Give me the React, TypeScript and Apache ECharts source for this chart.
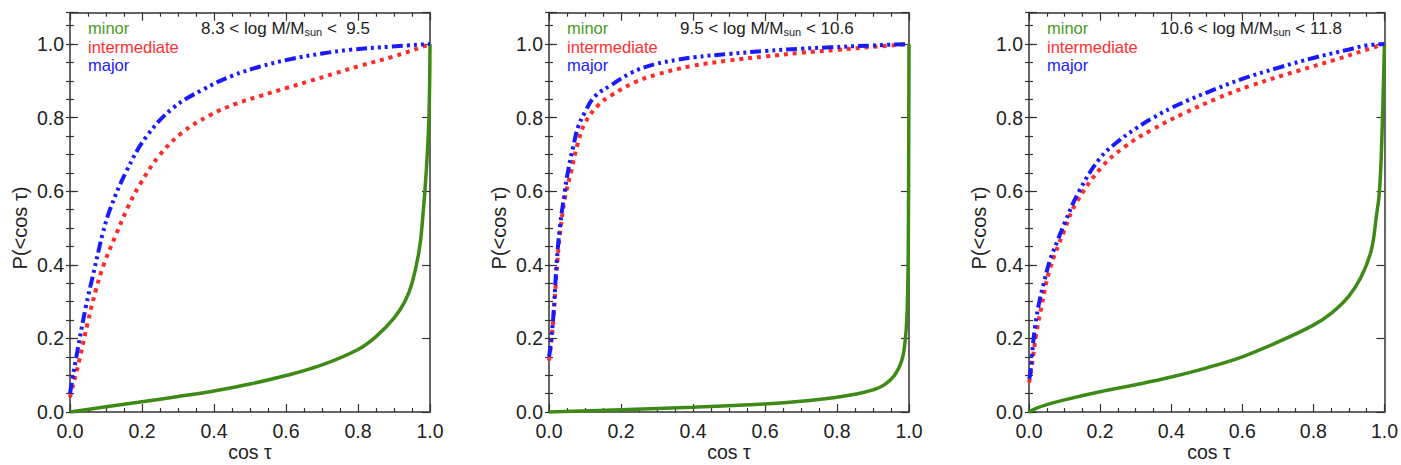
import React, { useEffect, useRef } from 'react';
import * as echarts from 'echarts';

// ---------- data ----------
const SERIES_NAMES = ['minor', 'intermediate', 'major'];
const PANEL_LO = ['8.3', '9.5', '10.6'];
const PANEL_HI = [' 9.5', '10.6', '11.8'];
const X_TICKS = [0, 0.2, 0.4, 0.6, 0.8, 1.0];

// panel 1 : 8.3 < log M < 9.5
const P1_MINOR_X = [0, 0.1, 0.2, 0.3, 0.4, 0.5, 0.6, 0.7, 0.8, 0.85, 0.9, 0.93, 0.95, 0.97, 0.98, 0.99, 0.997, 1.0];
const P1_MINOR_Y = [0, 0.014, 0.028, 0.042, 0.057, 0.076, 0.099, 0.128, 0.17, 0.205, 0.255, 0.3, 0.35, 0.44, 0.53, 0.66, 0.8, 1.0];
const P1_INTER_X = [0, 0.003, 0.026, 0.049, 0.072, 0.095, 0.127, 0.16, 0.194, 0.249, 0.313, 0.388, 0.462, 0.526, 0.6, 0.665, 0.735, 0.803, 0.895, 0.978, 1.0];
const P1_INTER_Y = [0.04, 0.052, 0.141, 0.242, 0.332, 0.404, 0.48, 0.555, 0.618, 0.698, 0.76, 0.806, 0.838, 0.858, 0.88, 0.899, 0.92, 0.94, 0.965, 0.992, 1.0];
const P1_MAJOR_X = [0, 0.005, 0.021, 0.044, 0.063, 0.081, 0.09, 0.111, 0.157, 0.212, 0.286, 0.369, 0.452, 0.526, 0.618, 0.7, 0.776, 0.895, 1.0];
const P1_MAJOR_Y = [0.05, 0.08, 0.168, 0.286, 0.368, 0.445, 0.482, 0.55, 0.655, 0.748, 0.826, 0.876, 0.914, 0.938, 0.96, 0.974, 0.984, 0.993, 1.0];

// panel 2 : 9.5 < log M < 10.6
const P2_MINOR_X = [0, 0.2, 0.4, 0.6, 0.7, 0.8, 0.85, 0.9, 0.93, 0.96, 0.98, 0.99, 0.995, 0.998, 1.0];
const P2_MINOR_Y = [0, 0.006, 0.013, 0.022, 0.029, 0.04, 0.048, 0.06, 0.073, 0.1, 0.14, 0.2, 0.28, 0.45, 1.0];
const P2_INTER_X = [0, 0.003, 0.012, 0.021, 0.03, 0.044, 0.063, 0.08, 0.1, 0.137, 0.174, 0.238, 0.303, 0.395, 0.5, 0.6, 0.7, 0.8, 0.9, 1.0];
const P2_INTER_Y = [0.14, 0.16, 0.25, 0.38, 0.48, 0.58, 0.66, 0.73, 0.785, 0.834, 0.861, 0.896, 0.918, 0.94, 0.955, 0.966, 0.976, 0.984, 0.992, 1.0];
const P2_MAJOR_X = [0, 0.003, 0.012, 0.021, 0.03, 0.044, 0.053, 0.067, 0.081, 0.1, 0.127, 0.174, 0.229, 0.294, 0.357, 0.404, 0.5, 0.6, 0.7, 0.78, 0.9, 1.0];
const P2_MAJOR_Y = [0.15, 0.17, 0.26, 0.4, 0.5, 0.6, 0.655, 0.72, 0.775, 0.815, 0.857, 0.889, 0.922, 0.945, 0.957, 0.964, 0.973, 0.981, 0.987, 0.991, 0.996, 1.0];

// panel 3 : 10.6 < log M < 11.8
const P3_MINOR_X = [0, 0.02, 0.05, 0.1, 0.2, 0.3, 0.4, 0.5, 0.6, 0.7, 0.8, 0.85, 0.9, 0.935, 0.963, 0.977, 0.986, 0.993, 1.0];
const P3_MINOR_Y = [0, 0.01, 0.02, 0.033, 0.055, 0.074, 0.095, 0.12, 0.15, 0.19, 0.236, 0.268, 0.315, 0.368, 0.44, 0.53, 0.6, 0.75, 1.0];
const P3_INTER_X = [0, 0.003, 0.01, 0.02, 0.035, 0.058, 0.1, 0.132, 0.206, 0.27, 0.344, 0.437, 0.529, 0.621, 0.76, 0.861, 0.945, 1.0];
const P3_INTER_Y = [0.08, 0.095, 0.14, 0.21, 0.286, 0.386, 0.495, 0.567, 0.667, 0.721, 0.766, 0.812, 0.852, 0.886, 0.928, 0.957, 0.983, 1.0];
const P3_MAJOR_X = [0, 0.003, 0.007, 0.017, 0.03, 0.044, 0.058, 0.081, 0.1, 0.141, 0.2, 0.25, 0.3, 0.35, 0.4, 0.45, 0.5, 0.6, 0.7, 0.8, 0.9, 0.95, 1.0];
const P3_MAJOR_Y = [0.09, 0.1, 0.14, 0.232, 0.304, 0.359, 0.41, 0.467, 0.513, 0.6, 0.69, 0.735, 0.77, 0.8, 0.826, 0.848, 0.868, 0.905, 0.935, 0.962, 0.985, 0.996, 1.0];

const PANELS = [
  [[P1_MINOR_X, P1_MINOR_Y], [P1_INTER_X, P1_INTER_Y], [P1_MAJOR_X, P1_MAJOR_Y]],
  [[P2_MINOR_X, P2_MINOR_Y], [P2_INTER_X, P2_INTER_Y], [P2_MAJOR_X, P2_MAJOR_Y]],
  [[P3_MINOR_X, P3_MINOR_Y], [P3_INTER_X, P3_INTER_Y], [P3_MAJOR_X, P3_MAJOR_Y]],
];

// ---------- styling ----------
const FONT = '"Liberation Sans", Arial, Helvetica, sans-serif';
const COLORS = ['#3d8b16', '#ff2a2a', '#1a1aff'];
const LEGEND_COLORS = ['#4a9a25', '#ff3030', '#2020ff'];
const LINE_TYPES: any[] = ['solid', [4, 5], [11, 4, 3, 4, 3, 4, 3, 4]];
const LINE_WIDTHS = [3.5, 4, 4];
const GRID_LEFTS = [70, 549, 1029];
const GRID_W = 360;
const GRID_TOP = 12.7;
const GRID_H = 399.3;
const Y_MAX = 1.085;
const AX = '#333';

export default function App() {
  const ref = useRef<HTMLDivElement>(null);
  useEffect(() => {
    if (!ref.current) return;
    const chart = echarts.init(ref.current, undefined, { renderer: 'svg' });

    const grid: any[] = [];
    const xAxis: any[] = [];
    const yAxis: any[] = [];
    const series: any[] = [];
    const graphic: any[] = [];

    const axisLine = { show: true, onZero: false, lineStyle: { color: AX, width: 1.5 } };
    const majorTick = { show: true, inside: true, length: 8, lineStyle: { color: AX, width: 1.2 } };
    const minorTickStyle = { show: true, inside: true, length: 4, lineStyle: { color: AX, width: 1.2 } };
    const labelStyle = { fontSize: 19.5, color: '#222', fontFamily: FONT };

    PANELS.forEach((panel, i) => {
      const left = GRID_LEFTS[i];
      grid.push({ left, top: GRID_TOP, width: GRID_W, height: GRID_H, containLabel: false });

      ['bottom', 'top'].forEach((pos) => {
        xAxis.push({
          type: 'value', gridIndex: i, position: pos, min: X_TICKS[0], max: X_TICKS[X_TICKS.length - 1], interval: 0.2,
          axisLine, axisTick: majorTick,
          minorTick: { show: true, splitNumber: 4, length: 4, lineStyle: { color: AX, width: 1.2 } },
          splitLine: { show: false }, minorSplitLine: { show: false },
          axisLabel: pos === 'bottom'
            ? { show: true, margin: 9, formatter: (v: number) => v.toFixed(1), ...labelStyle }
            : { show: false },
        });
      });

      ['left', 'right'].forEach((pos) => {
        yAxis.push({
          type: 'value', gridIndex: i, position: pos, min: 0, max: Y_MAX, interval: 0.2,
          axisLine, axisTick: majorTick, splitLine: { show: false },
          axisLabel: pos === 'left'
            ? {
                show: true, margin: 6,
                formatter: (v: number) => (Math.abs(v / 0.2 - Math.round(v / 0.2)) < 1e-6 ? v.toFixed(1) : ''),
                ...labelStyle,
              }
            : { show: false },
        });
        yAxis.push({
          type: 'value', gridIndex: i, position: pos, min: 0, max: Y_MAX, interval: 0.05,
          axisLine: { show: false }, axisTick: minorTickStyle, splitLine: { show: false },
          axisLabel: { show: false },
        });
      });

      panel.forEach(([xs, ys], k) => {
        series.push({
          type: 'line', name: SERIES_NAMES[k], xAxisIndex: i * 2, yAxisIndex: i * 4,
          data: xs.map((x, j) => [x, ys[j]]),
          showSymbol: false, symbol: 'none', clip: true,
          smooth: 0.4,
          lineStyle: { color: COLORS[k], width: LINE_WIDTHS[k], type: LINE_TYPES[k], cap: 'butt' },
          z: 2 + k,
        });
      });

      // legend texts
      SERIES_NAMES.forEach((name, k) => {
        graphic.push({
          type: 'text', x: left + 18, y: 28 + k * 18.5,
          style: { text: name, fill: LEGEND_COLORS[k], font: `16.5px ${FONT}`, verticalAlign: 'middle', align: 'left' },
        });
      });

      // mass range title
      graphic.push({
        type: 'text', x: left + 131, y: 28,
        style: {
          text: `{n|${PANEL_LO[i]} < log M/M}{s|sun}{n| < ${PANEL_HI[i]}}`,
          verticalAlign: 'middle', align: 'left',
          rich: {
            n: { fontSize: 17, fontFamily: FONT, fill: '#222' },
            s: { fontSize: 11, fontFamily: FONT, fill: '#222', padding: [8, 0, 0, 0] },
          },
        },
      });

      // axis titles
      graphic.push({
        type: 'text', x: left + GRID_W / 2, y: 452,
        style: { text: 'cos τ', font: `19.5px ${FONT}`, fill: '#222', align: 'center', verticalAlign: 'middle' },
      });
      graphic.push({
        type: 'text', x: left - 50, y: 228, rotation: Math.PI / 2,
        style: { text: 'P(<cos τ)', font: `20px ${FONT}`, fill: '#222', align: 'center', verticalAlign: 'middle' },
      });
    });

    chart.setOption({
      animation: false,
      backgroundColor: '#ffffff',
      grid, xAxis, yAxis, series, graphic,
    });
    return () => chart.dispose();
  }, []);

  return <div ref={ref} style={{ position: 'fixed', left: 0, top: 0, width: 1401, height: 465 }} />;
}
